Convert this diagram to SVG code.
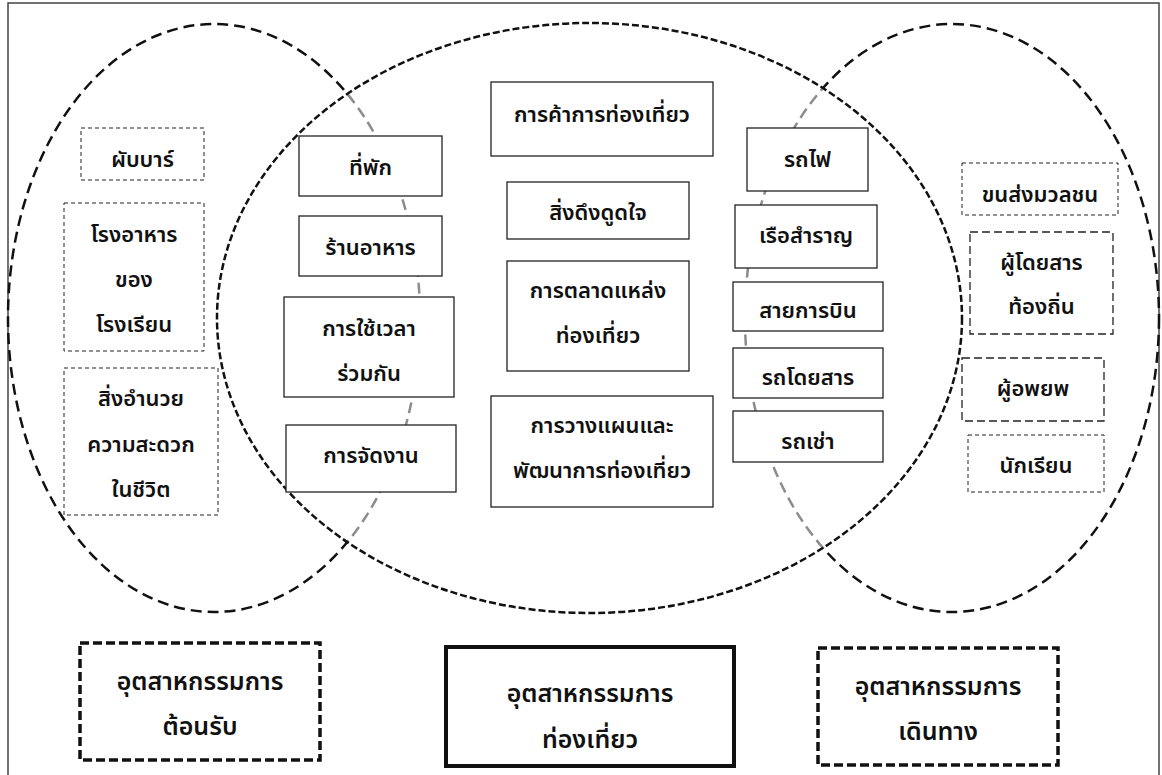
<svg xmlns="http://www.w3.org/2000/svg" width="1162" height="775" viewBox="0 0 1162 775">
<style>
  text { font-family: "Noto Sans Thai", "Noto Sans", "DejaVu Sans", sans-serif; font-weight: 600; font-size: 22px; fill: #111; text-anchor: middle; }
  .big { font-size: 25px; }
  .solid { fill: #fff; stroke: #222; stroke-width: 1.3; }
  .thin { fill: #fff; stroke: #222; stroke-width: 1; stroke-dasharray: 4 3; }
  .med { fill: #fff; stroke: #222; stroke-width: 1.3; stroke-dasharray: 8 4; }
  .thickdash { fill: #fff; stroke: #111; stroke-width: 3.5; stroke-dasharray: 9 4; }
  .thicksolid { fill: #fff; stroke: #111; stroke-width: 4; }
  .outer { fill: none; stroke: #111; stroke-width: 2.5; stroke-dasharray: 11 6; }
  .outer-gray { fill: none; stroke: #8c8c8c; stroke-width: 2.5; stroke-dasharray: 11 6; }
  .middle { fill: none; stroke: #111; stroke-width: 2.5; stroke-dasharray: 7 3; }
</style>
<defs>
  <clipPath id="insideMid">
    <ellipse cx="589.5" cy="318" rx="372.5" ry="295"/>
  </clipPath>
  <clipPath id="outsideMid">
    <path clip-rule="evenodd" d="M0 0 H1162 V775 H0 Z M217 318 A372.5 295 0 1 0 962 318 A372.5 295 0 1 0 217 318 Z"/>
  </clipPath>
</defs>
<rect x="0" y="0" width="1162" height="775" fill="#fff"/>
<rect x="8" y="3" width="1151" height="800" fill="none" stroke="#444" stroke-width="1.5"/>

<g id="regions">
  <g id="set-hospitality">
    <ellipse class="outer" cx="214" cy="318" rx="206" ry="294" clip-path="url(#outsideMid)"/>
    <ellipse class="outer-gray" cx="214" cy="318" rx="206" ry="294" clip-path="url(#insideMid)"/>
  </g>
  <g id="set-travel">
    <ellipse class="outer" cx="952" cy="318" rx="207" ry="294" clip-path="url(#outsideMid)"/>
    <ellipse class="outer-gray" cx="952" cy="318" rx="207" ry="294" clip-path="url(#insideMid)"/>
  </g>
  <g id="set-tourism">
    <ellipse class="middle" cx="589.5" cy="318" rx="372.5" ry="295"/>
  </g>
</g>

<g id="n-pub"><rect class="thin" x="81" y="128" width="123" height="52"/><text x="142.5" y="167">ผับบาร์</text></g>
<g id="n-canteen"><rect class="thin" x="64" y="203" width="140" height="148"/><text x="134" y="242">โรงอาหาร</text><text x="134" y="287">ของ</text><text x="134" y="332">โรงเรียน</text></g>
<g id="n-amenities"><rect class="thin" x="64" y="368" width="154" height="147"/><text x="141" y="406">สิ่งอำนวย</text><text x="141" y="452">ความสะดวก</text><text x="141" y="497">ในชีวิต</text></g>

<g id="n-lodging"><rect class="solid" x="299" y="136" width="143" height="60"/><text x="370.5" y="175">ที่พัก</text></g>
<g id="n-restaurant"><rect class="solid" x="299" y="216" width="143" height="60"/><text x="370.5" y="255">ร้านอาหาร</text></g>
<g id="n-timeshare"><rect class="solid" x="284" y="297" width="170" height="100"/><text x="369" y="336">การใช้เวลา</text><text x="369" y="381">ร่วมกัน</text></g>
<g id="n-events"><rect class="solid" x="286" y="425" width="170" height="67"/><text x="371" y="463">การจัดงาน</text></g>

<g id="n-trade"><rect class="solid" x="491" y="82" width="222" height="74"/><text x="602" y="122">การค้าการท่องเที่ยว</text></g>
<g id="n-attractions"><rect class="solid" x="507" y="182" width="182" height="57"/><text x="598" y="220">สิ่งดึงดูดใจ</text></g>
<g id="n-marketing"><rect class="solid" x="507" y="261" width="182" height="110"/><text x="598" y="298">การตลาดแหล่ง</text><text x="598" y="343">ท่องเที่ยว</text></g>
<g id="n-planning"><rect class="solid" x="491" y="396" width="222" height="111"/><text x="602" y="433">การวางแผนและ</text><text x="602" y="478">พัฒนาการท่องเที่ยว</text></g>

<g id="n-train"><rect class="solid" x="747" y="128" width="121" height="63"/><text x="807.5" y="167">รถไฟ</text></g>
<g id="n-cruise"><rect class="solid" x="735" y="205" width="142" height="63"/><text x="806" y="243">เรือสำราญ</text></g>
<g id="n-airline"><rect class="solid" x="733" y="282" width="150" height="49"/><text x="808" y="318">สายการบิน</text></g>
<g id="n-bus"><rect class="solid" x="733" y="348" width="150" height="50"/><text x="808" y="385">รถโดยสาร</text></g>
<g id="n-rental"><rect class="solid" x="733" y="411" width="150" height="51"/><text x="808" y="449">รถเช่า</text></g>

<g id="n-mass"><rect class="thin" x="962" y="163" width="156" height="52"/><text x="1040" y="202">ขนส่งมวลชน</text></g>
<g id="n-local"><rect class="med" x="970" y="232" width="143" height="102"/><text x="1041.5" y="270">ผู้โดยสาร</text><text x="1041.5" y="314">ท้องถิ่น</text></g>
<g id="n-migrant"><rect class="med" x="962" y="358" width="142" height="63"/><text x="1033" y="396">ผู้อพยพ</text></g>
<g id="n-student"><rect class="thin" x="968" y="435" width="136" height="57"/><text x="1036" y="473">นักเรียน</text></g>

<g id="n-hospitality-industry"><rect class="thickdash" x="80" y="643" width="240" height="117"/><text class="big" x="200" y="690">อุตสาหกรรมการ</text><text class="big" x="200" y="735">ต้อนรับ</text></g>
<g id="n-tourism-industry"><rect class="thicksolid" x="446" y="647" width="288" height="119"/><text class="big" x="590" y="702">อุตสาหกรรมการ</text><text class="big" x="590" y="748">ท่องเที่ยว</text></g>
<g id="n-travel-industry"><rect class="thickdash" x="818" y="648" width="240" height="117"/><text class="big" x="938" y="695">อุตสาหกรรมการ</text><text class="big" x="938" y="740">เดินทาง</text></g>
</svg>
